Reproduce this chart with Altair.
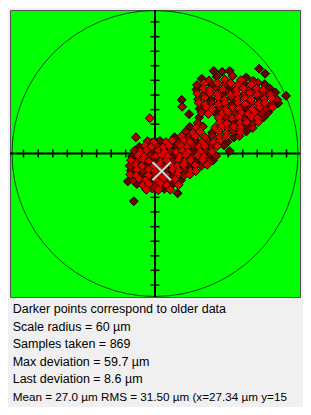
import altair as alt
import pandas as pd

# ---- data (micrometres) ----
upper_x = [19.6,22.7,25.9,29.3,32.6,36.1,38.3,41.2,
           17.6,20.5,23.5,26.1,29.1,31.7,34.7,37.3,40.3,43.1,46.0,
           17.4,20.3,23.0,25.9,28.5,31.5,34.1,37.1,39.7,42.7,45.3,48.1,
           17.7,20.5,23.1,26.1,28.7,31.7,34.3,37.3,39.9,42.9,45.5,48.5,50.5,
           18.1,20.9,23.5,26.5,29.1,32.1,34.7,37.7,40.3,43.3,45.9,48.9,51.3,
           18.3,21.1,23.7,26.7,29.3,32.3,34.9,37.9,40.5,43.5,46.1,49.1,51.7,
           18.7,21.5,24.1,27.1,29.7,32.7,35.3,38.3,40.9,43.9,46.5,49.3,
           19.6,22.4,25.0,28.0,30.6,33.6,36.2,39.2,41.8,44.8,47.4,
           18.5,26.8,29.6,32.4,35.1,37.8,40.5,43.1,45.6,
           17.8,27.3,30.1,32.9,35.6,38.4,41.0,43.3,
           14.6,17.3,20.1,25.2,27.8,30.5,33.2,35.9,38.6,41.0,
           12.8,15.9,18.8,23.9,26.9,29.9,32.8,35.8,38.3,
           8.2,11.2,14.1,17.1,20.9,24.0,27.1,30.0,33.1,35.4]
upper_y = [31.4,30.6,32.2,31.0,32.5,30.8,31.9,30.5,
           28.7,29.4,28.8,29.6,28.9,29.5,28.6,29.3,28.9,29.7,29.1,
           26.8,27.3,26.7,27.4,26.9,27.2,26.6,27.5,26.8,27.2,26.6,27.3,
           25.2,24.6,25.4,24.8,25.3,24.7,25.1,24.6,25.4,24.8,25.3,24.7,25.6,
           22.8,23.4,22.7,23.3,22.6,23.4,22.8,23.2,22.7,23.5,22.9,23.3,22.6,
           21.3,20.7,21.4,20.8,21.2,20.6,21.3,20.7,21.4,20.8,21.2,20.6,21.1,
           18.8,19.4,18.7,19.3,18.6,19.4,18.9,19.2,18.7,19.3,18.8,19.4,
           17.2,16.6,17.3,16.8,17.4,16.7,17.1,16.6,17.3,16.9,17.2,
           15.1,14.8,15.3,14.7,15.2,14.6,15.3,14.8,15.2,
           12.8,13.2,12.7,13.3,12.8,13.1,12.6,13.2,
           11.2,10.7,11.3,10.8,11.2,10.6,11.3,10.9,11.2,10.7,
           9.1,8.7,9.3,8.8,9.2,8.6,9.3,8.9,9.2,
           6.8,7.3,6.7,7.2,6.9,7.4,6.8,7.2,6.7,7.3]
upper_age = [0,1,0,2,1,2,0,1,
             1,2,0,2,1,2,2,0,2,1,0,
             0,2,2,1,2,0,2,2,1,2,2,0,
             2,1,2,2,0,2,2,1,2,2,1,2,0,
             1,2,0,2,2,1,2,2,2,0,2,2,1,
             2,2,1,2,2,0,2,2,1,2,2,1,0,
             0,2,2,1,2,2,2,0,2,2,1,2,
             1,2,0,2,2,1,2,2,2,1,0,
             0,2,1,2,2,1,2,2,0,
             1,2,2,0,2,2,1,2,
             0,2,1,2,2,1,2,2,0,1,
             1,2,2,0,2,2,1,2,0,
             0,2,1,2,2,1,2,2,0,1]

lower_x = [-3.2,-0.6,2.0,4.6,7.1,9.6,12.1,14.6,17.2,19.7,22.1,24.6,27.2,30.4,
           -6.6,-4.1,-1.6,0.9,3.4,5.9,8.4,10.9,13.4,15.9,18.4,20.9,23.4,26.1,29.0,
           -8.6,-6.1,-3.6,-1.1,1.4,3.9,6.4,8.9,11.4,13.9,16.4,18.9,21.4,23.9,31.3,
           -9.6,-7.1,-4.6,-2.1,0.4,2.9,5.4,7.9,10.4,12.9,15.4,17.9,20.4,22.9,25.6,
           -10.1,-7.6,-5.1,-2.6,-0.1,2.4,4.9,7.4,9.9,12.4,14.9,17.4,19.9,22.4,24.3,
           -10.6,-8.1,-5.6,-3.1,-0.6,1.9,4.4,6.9,9.4,11.9,14.4,16.9,19.4,21.9,
           -10.1,-7.6,-5.1,-2.6,-0.1,2.4,4.9,7.4,9.9,12.4,14.9,17.1,
           -10.4,-7.9,-5.4,-2.9,-0.4,2.1,4.6,7.1,9.6,12.1,14.6,
           -9.1,-6.6,-4.1,-1.6,0.9,3.4,5.9,8.4,10.9,
           -7.6,-5.1,-2.6,-0.1,2.4,4.9,7.4,9.9,
           -3.6,-1.1,1.4,3.9,6.4]
lower_y = [5.2,4.7,5.3,4.8,5.4,4.6,5.2,4.8,5.3,4.7,5.2,4.8,5.3,4.9,
           2.8,3.3,2.7,3.2,2.6,3.3,2.8,3.2,2.7,3.3,2.8,3.2,2.6,3.1,3.4,
           1.2,0.7,1.3,0.6,1.2,0.8,1.3,0.7,1.2,0.6,1.3,0.8,1.2,0.7,1.1,
           -1.2,-0.7,-1.3,-0.8,-1.2,-0.6,-1.3,-0.8,-1.2,-0.7,-1.3,-0.8,-1.2,-0.7,-1.1,
           -2.8,-3.3,-2.7,-3.2,-2.6,-3.3,-2.8,-3.2,-2.7,-3.3,-2.8,-3.2,-2.7,-3.3,-2.9,
           -5.2,-4.7,-5.3,-4.8,-5.2,-4.6,-5.3,-4.8,-5.2,-4.7,-5.3,-4.8,-5.2,-4.7,
           -7.2,-6.7,-7.3,-6.8,-7.2,-6.7,-7.3,-6.8,-7.2,-6.7,-7.3,-7.4,
           -8.8,-9.3,-8.7,-9.2,-8.6,-9.3,-8.8,-9.2,-8.7,-9.3,-8.8,
           -11.2,-10.7,-11.3,-10.8,-11.2,-10.6,-11.3,-10.8,-11.2,
           -12.8,-13.3,-12.7,-13.2,-12.6,-13.3,-12.8,-13.2,
           -15.2,-14.7,-15.3,-14.8,-15.2]
lower_age = [1,2,0,2,2,1,2,2,0,2,1,2,2,0,
             0,2,2,1,2,2,0,2,2,1,2,2,1,2,0,
             1,2,2,0,2,2,1,2,2,2,0,2,1,2,0,
             0,2,2,1,2,2,2,0,2,2,1,2,2,0,1,
             2,1,2,2,0,2,2,1,2,2,2,0,2,1,0,
             1,2,2,0,2,2,1,2,2,2,0,2,1,2,
             0,2,1,2,2,2,0,2,2,1,2,2,
             2,2,0,2,1,2,2,0,2,1,2,
             1,2,2,0,2,2,1,2,0,
             0,2,2,1,2,2,0,2,
             2,1,2,0,2]

outlier_x = [24.6,28.2,31.3,43.7,46.2,55.0,11.2,11.4,14.3,-2.2,-8.0,-11.4,9.5,-8.9]
outlier_y = [34.7,34.3,34.7,35.6,33.5,24.2,22.5,19.6,16.5,14.8,6.8,-11.7,-16.7,-20.0]
outlier_age = [0,0,0,0,0,0,0,1,0,2,1,0,0,0]

last_x = [2.8]
last_y = [-7.4]

scale_radius = 60
tick_positions = [-55.2,-49.0,-42.9,-36.8,-30.7,-24.5,-18.4,-12.3,-6.1,
                  6.1,12.3,18.4,24.5,30.7,36.8,42.9,49.0,55.2]

info_lines = [
    "Darker points correspond to older data",
    "Scale radius = 60 \u00b5m",
    "Samples taken = 869",
    "Max deviation = 59.7 \u00b5m",
    "Last deviation = 8.6 \u00b5m",
    "Mean = 27.0 \u00b5m RMS = 31.50 \u00b5m (x=27.34 \u00b5m y=15",
]
info_sizes = [12.5, 12.5, 12.5, 12.5, 12.5, 11.7]

# ---- build ----
pts = pd.DataFrame({
    "x": upper_x + lower_x + outlier_x,
    "y": upper_y + lower_y + outlier_y,
    "age": upper_age + lower_age + outlier_age,
})
pts = pts.sort_values("age", kind="stable").reset_index(drop=True)

xs = alt.Scale(domain=[-60.85, 60.85], nice=False, zero=False)
ys = alt.Scale(domain=[-60.2, 60.2], nice=False, zero=False)
X = lambda f: alt.X(f, scale=xs, axis=None)
Y = lambda f: alt.Y(f, scale=ys, axis=None)

one = pd.DataFrame({"x": [0.0], "y": [0.0]})
ticks = pd.DataFrame({"p": tick_positions, "z": [0.0] * len(tick_positions)})

circle = alt.Chart(one).mark_point(
    shape="circle", filled=False, size=(2 * scale_radius * 2.383) ** 2,
    stroke="#004a00", strokeWidth=1, opacity=1
).encode(x=X("x:Q"), y=Y("y:Q"))

hline = alt.Chart(one).mark_rule(color="black", strokeWidth=2).encode(y=Y("y:Q"))
vline = alt.Chart(one).mark_rule(color="black", strokeWidth=2).encode(x=X("x:Q"))

hticks = alt.Chart(ticks).mark_tick(orient="vertical", size=8, thickness=1.5, color="black", opacity=1).encode(
    x=X("p:Q"), y=Y("z:Q"))
vticks = alt.Chart(ticks).mark_tick(orient="horizontal", size=9, thickness=1.5, color="black", opacity=1).encode(
    x=X("z:Q"), y=Y("p:Q"))

outer = alt.Chart(pts).mark_point(shape="diamond", filled=True, size=81, strokeWidth=1, opacity=1).encode(
    x=X("x:Q"), y=Y("y:Q"),
    fill=alt.Fill("age:O", scale=alt.Scale(domain=[0, 1, 2], range=["#680000", "#a00000", "#dc0000"]), legend=None),
    stroke=alt.value("#200000"),
)
inner = alt.Chart(pts).mark_point(shape="diamond", filled=True, size=22, strokeWidth=0, opacity=1).encode(
    x=X("x:Q"), y=Y("y:Q"),
    fill=alt.Fill("age:O", scale=alt.Scale(domain=[0, 1, 2], range=["#780000", "#c80000", "#ff2020"]), legend=None),
)

last_df = pd.DataFrame({"x": last_x, "y": last_y})
xpath = "M-1,-1L1,1M-1,1L1,-1"
last_shadow = alt.Chart(last_df).mark_point(shape=xpath, size=330, filled=False, stroke="#a0a0a0", strokeWidth=2.5, opacity=1).encode(
    x=X("x:Q"), y=Y("y:Q"))
last_mark = alt.Chart(last_df).mark_point(shape=xpath, size=330, filled=False, stroke="white", strokeWidth=1, opacity=1).encode(
    x=X("x:Q"), y=Y("y:Q"))

texts = []
for i, line in enumerate(info_lines):
    texts.append(
        alt.Chart(one).mark_text(align="left", baseline="middle", font="Liberation Sans", fontSize=info_sizes[i], color="black").encode(
            x=alt.value(2.7), y=alt.value(299 + 17.5 * i), text=alt.value(line))
    )

chart = alt.layer(circle, hline, vline, hticks, vticks, outer, inner, last_shadow, last_mark, *texts).properties(
    width=290, height=287, autosize="none",
    padding={"left": 2, "top": 2, "right": 3, "bottom": 110},
    background="#f0f0f0",
).configure_view(fill="#00ff00", stroke="#505050", strokeWidth=1)

chart.save("out.html", embed_options={"renderer": "svg", "actions": False})
